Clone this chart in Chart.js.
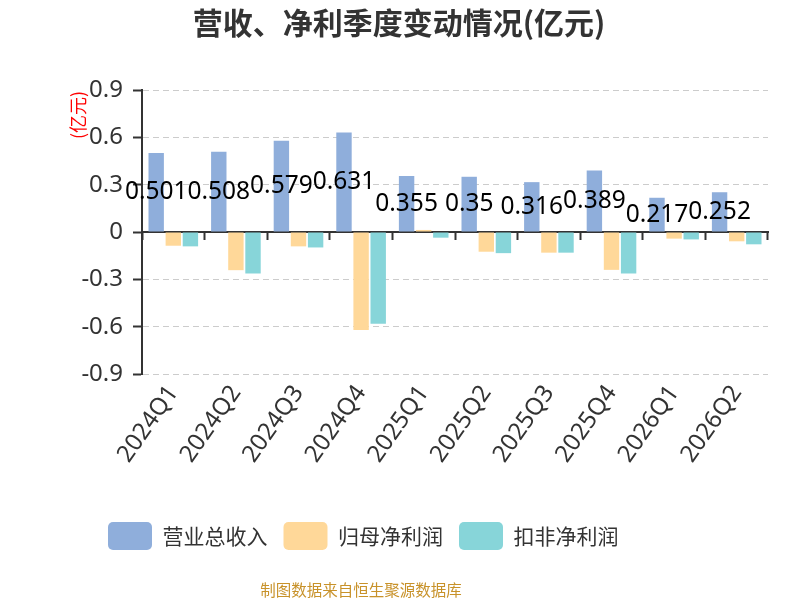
<!DOCTYPE html>
<html>
<head>
<meta charset="utf-8">
<script src="https://cdn.jsdelivr.net/npm/chart.js@4.4.1/dist/chart.umd.min.js"></script>
<style>html,body{margin:0;background:#fff}</style>
</head>
<body>
<canvas id="c" width="800" height="600"></canvas>
<script>
// quarters and values (亿元)
const quarters = ["2024Q1", "2024Q2", "2024Q3", "2024Q4", "2025Q1", "2025Q2", "2025Q3", "2025Q4", "2026Q1", "2026Q2"];
const revenue = [0.501, 0.508, 0.579, 0.631, 0.355, 0.35, 0.316, 0.389, 0.217, 0.252];
const netProfit = [-0.087, -0.242, -0.091, -0.621, 0.013, -0.125, -0.131, -0.240, -0.042, -0.059];
const deductProfit = [-0.091, -0.263, -0.098, -0.581, -0.036, -0.134, -0.131, -0.263, -0.047, -0.078];
const yTicks = [-0.9, -0.6, -0.3, 0, 0.3, 0.6, 0.9];
const yTickLabels = ["-0.9", "-0.6", "-0.3", "0", "0.3", "0.6", "0.9"];

const cjk = '"Noto Sans CJK SC", "Noto Sans", sans-serif';
const num = '"Noto Sans", sans-serif';

// value labels, title, unit and source note
const extras = {
  id: "extras",
  afterLayout(chart) {
    // legend row starts a bit right of the canvas edge, as in the original
    chart.legend.left = 92;
  },
  afterDatasetsDraw(chart) {
    const ctx = chart.ctx;
    const meta = chart.getDatasetMeta(0);
    ctx.save();
    ctx.font = "24.5px " + num;
    ctx.fillStyle = "#000";
    ctx.textAlign = "center";
    ctx.textBaseline = "middle";
    meta.data.forEach((bar, i) => {
      ctx.fillText(String(revenue[i]), bar.x, (bar.y + bar.base) / 2);
    });
    ctx.restore();
  },
  afterDraw(chart) {
    const ctx = chart.ctx;
    ctx.save();
    ctx.textAlign = "center";
    ctx.textBaseline = "middle";
    ctx.fillStyle = "#333";
    ctx.font = "bold 30px " + cjk;
    ctx.fillText("营收、净利季度变动情况(亿元)", 399, 23);

    ctx.fillStyle = "#c8922a";
    ctx.font = "15.5px " + cjk;
    ctx.fillText("制图数据来自恒生聚源数据库", 361, 590);

    ctx.translate(78, 115);
    ctx.rotate(-Math.PI / 2);
    ctx.fillStyle = "#ff0000";
    ctx.font = "18px " + cjk;
    ctx.fillText("(亿元)", 0, 0);
    ctx.restore();
  }
};

new Chart(document.getElementById("c"), {
  type: "bar",
  data: {
    labels: quarters,
    datasets: [
      { label: "营业总收入", data: revenue, backgroundColor: "#8FAEDB" },
      { label: "归母净利润", data: netProfit, backgroundColor: "#FFD899" },
      { label: "扣非净利润", data: deductProfit, backgroundColor: "#87D5D9" },
    ],
  },
  options: {
    responsive: false,
    animation: false,
    layout: { padding: { top: 90, left: 0, right: 32, bottom: 40 } },
    datasets: { bar: { categoryPercentage: 0.82, barPercentage: 0.9 } },
    scales: {
      // axis line sitting on zero, ticks between quarters
      x: {
        position: { y: 0 },
        offset: true,
        grid: { drawOnChartArea: false, drawTicks: true, tickLength: 7, tickColor: "#333", tickWidth: 2, offset: true },
        border: { color: "#333", width: 2 },
        ticks: { display: false },
      },
      // quarter labels under the plot
      xl: {
        type: "category",
        position: "bottom",
        offset: true,
        grid: { display: false, drawTicks: false },
        border: { display: false },
        ticks: { font: { size: 24, family: num }, color: "#333", maxRotation: 55, minRotation: 55, padding: 6, autoSkip: false },
        afterFit: (s) => { s.height = 132; },
      },
      y: {
        min: -0.9,
        max: 0.9,
        afterBuildTicks: (s) => { s.ticks = yTicks.map((v) => ({ value: v })); },
        ticks: {
          font: { size: 24, family: num },
          color: "#333",
          padding: 10,
          callback: (v, i) => yTickLabels[i],
        },
        grid: {
          color: (c) => (c.tick && c.tick.value === 0 ? "rgba(0,0,0,0)" : "#ccc"),
          tickColor: "#333",
          tickLength: 9,
          tickWidth: 2,
        },
        border: { color: "#333", width: 2, dash: [6, 4] },
        afterFit: (s) => { s.width = 142; },
      },
    },
    plugins: {
      legend: {
        position: "bottom",
        align: "start",
        labels: {
          boxWidth: 44,
          boxHeight: 28,
          useBorderRadius: true,
          borderRadius: 5,
          padding: 16,
          color: "#333",
          font: { size: 21, family: cjk },
        },
      },
      tooltip: { enabled: false },
    },
  },
  plugins: [extras],
});
</script>
</body>
</html>
